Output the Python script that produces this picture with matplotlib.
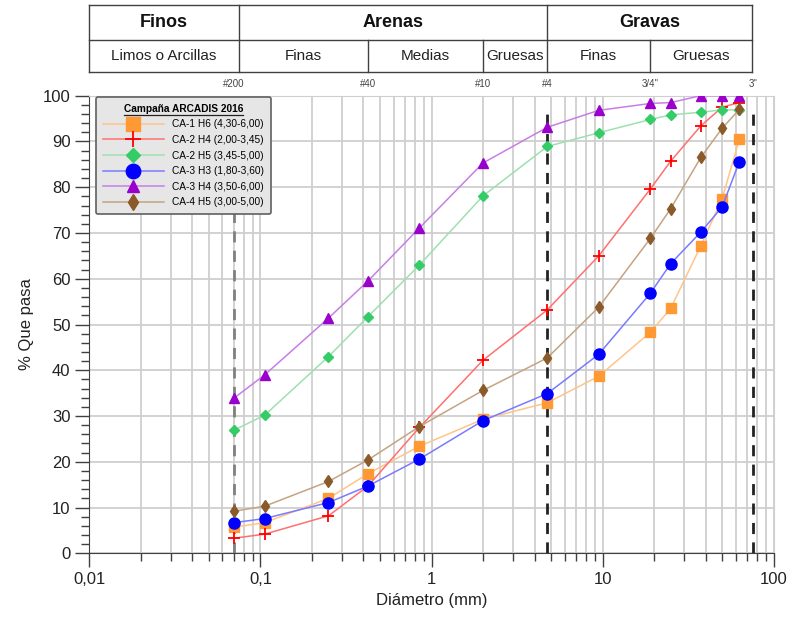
import numpy as np
import matplotlib
matplotlib.use("Agg")
import matplotlib.pyplot as plt
from matplotlib.lines import Line2D
from matplotlib.ticker import FuncFormatter, MultipleLocator
import matplotlib.transforms as mtransforms

plt.rcParams['font.family'] = ['Liberation Sans', 'DejaVu Sans']

# abertura de tamices (mm)
diametros = [0.07, 0.106, 0.25, 0.425, 0.85, 2.0, 4.75, 9.5, 19, 25, 37.5, 50, 63]

ca1_h6 = [5.7, 6.7, 12.0, 17.4, 23.4, 29.3, 32.9, 38.7, 48.3, 53.5, 67.2, 77.5, 90.5]
ca2_h4 = [3.3, 4.2, 8.2, 14.7, 27.5, 42.2, 53.2, 65.0, 79.6, 85.7, 93.4, 97.5, 98.5]
ca2_h5 = [26.9, 30.2, 43.0, 51.7, 63.0, 78.1, 88.9, 91.9, 94.8, 95.8, 96.4, 96.9, 96.9]
ca3_h3 = [6.7, 7.6, 11.1, 14.7, 20.6, 29.0, 34.9, 43.5, 56.8, 63.3, 70.2, 75.7, 85.6]
ca3_h4 = [33.9, 39.0, 51.4, 59.5, 71.1, 85.3, 93.1, 96.8, 98.3, 98.5, 100, 100, 100]
ca4_h5 = [9.2, 10.3, 15.7, 20.4, 27.7, 35.6, 42.7, 53.8, 68.8, 75.3, 86.5, 92.9, 97.0]

etiquetas = ["CA-1 H6 (4,30-6,00)", "CA-2 H4 (2,00-3,45)", "CA-2 H5 (3,45-5,00)",
             "CA-3 H3 (1,80-3,60)", "CA-3 H4 (3,50-6,00)", "CA-4 H5 (3,00-5,00)"]

# tamices marcados arriba
tamices_x = [0.07, 0.425, 2.0, 4.75, 19, 76]
tamices_txt = ["#200", "#40", "#10", "#4", "3/4\"", "3\""]

series = [ca1_h6, ca2_h4, ca2_h5, ca3_h3, ca3_h4, ca4_h5]
# (color linea, color marcador, marcador, tamano)
estilos = [
    ("#ffc48a", "#ff9933", "s", 7.5),
    ("#ff7070", "#ff0000", "+", 9),
    ("#9ee0b0", "#33cc66", "D", 5.5),
    ("#7a7aff", "#0000ff", "o", 8),
    ("#c77ee6", "#9900cc", "^", 7),
    ("#c4a482", "#8b5a2b", "d", 6.5),
]

fig = plt.figure(figsize=(7.89, 6.17), dpi=100)
ax = fig.add_axes([0.1132, 0.1032, 0.8674, 0.7417])
ax.set_xscale("log")
ax.set_xlim(0.01, 100)
ax.set_ylim(0, 100)

# rejilla
ax.grid(True, which="both", axis="x", color="#cfcfcf", lw=1.3, zorder=0)
ax.grid(True, which="major", axis="y", color="#cfcfcf", lw=1.3, zorder=0)
ax.set_axisbelow(True)

# lineas de tamices
ax.plot([0.07, 0.07], [0, 100], color="#808080", lw=2, ls=(0, (4, 3)), zorder=1)
ax.plot([4.75, 4.75], [0, 97], color="#222222", lw=2, ls=(0, (4, 3)), zorder=1)
ax.plot([76, 76], [0, 97], color="#222222", lw=2, ls=(0, (4, 3)), zorder=1)

handles = []
for datos, (cl, cm, mk, ms), lab in zip(series, estilos, etiquetas):
    mew = 1.3 if mk == "+" else 1
    h, = ax.plot(diametros, datos, color=cl, lw=1.1, marker=mk, ms=ms,
                 mfc=cm, mec=cm, mew=mew, label=lab, zorder=3)
    handles.append(h)

ax.xaxis.set_major_formatter(FuncFormatter(lambda v, p: ("%g" % v).replace(".", ",")))
ax.yaxis.set_major_locator(MultipleLocator(10))
ax.yaxis.set_minor_locator(MultipleLocator(2))
ax.tick_params(axis="both", which="major", length=10, width=1, color="#404040",
               labelsize=12, labelcolor="#222222")
ax.tick_params(axis="both", which="minor", length=6, width=1, color="#404040")
ax.tick_params(axis="x", which="minor", labelbottom=False)
ax.set_xlabel("Diámetro (mm)", fontsize=12, color="#222222", labelpad=4)
ax.set_ylabel("% Que pasa", fontsize=12, color="#222222", labelpad=6)

for s in ["left", "bottom"]:
    ax.spines[s].set_color("#404040")
for s in ["top", "right"]:
    ax.spines[s].set_color("#cfcfcf")

leg = ax.legend(handles=handles, loc="upper left", bbox_to_anchor=(0.008, 1.0),
                borderaxespad=0.1, fontsize=7.3, title="Campaña ARCADIS 2016",
                title_fontproperties={"weight": "bold", "size": 7.3},
                handlelength=6, labelspacing=0.55, borderpad=0.7, markerscale=1.3,
                fancybox=True, framealpha=1, facecolor="#e6e6e6", edgecolor="#606060")
leg.get_frame().set_linewidth(1.2)
leg.set_zorder(5)

# tabla de clasificacion arriba
tr = mtransforms.blended_transform_factory(ax.transData, ax.transAxes)
y_top, y_mid, y_bot = 1.198, 1.122, 1.052
x0, x1 = 0.01, 75

def linea(xs, ys):
    fig.add_artist(Line2D(xs, ys, transform=tr, color="#404040", lw=1, clip_on=False))

linea([x0, x1], [y_top, y_top])
linea([x0, x1], [y_mid, y_mid])
linea([x0, x1], [y_bot, y_bot])
for xv in [x0, 0.075, 4.75, x1]:
    linea([xv, xv], [y_bot, y_top])
for xv in [0.425, 2.0, 19]:
    linea([xv, xv], [y_bot, y_mid])

def centro(a, b):
    return np.sqrt(a * b)

arriba = [("Finos", x0, 0.075), ("Arenas", 0.075, 4.75), ("Gravas", 4.75, x1)]
for txt, a, b in arriba:
    ax.text(centro(a, b), (y_top + y_mid) / 2, txt, transform=tr, ha="center",
            va="center", fontsize=13, fontweight="bold", color="#111111", clip_on=False)

abajo = [("Limos o Arcillas", x0, 0.075), ("Finas", 0.075, 0.425), ("Medias", 0.425, 2.0),
         ("Gruesas", 2.0, 4.75), ("Finas", 4.75, 19), ("Gruesas", 19, x1)]
for txt, a, b in abajo:
    ax.text(centro(a, b), (y_mid + y_bot) / 2, txt, transform=tr, ha="center",
            va="center", fontsize=11, color="#222222", clip_on=False)

for xv, txt in zip(tamices_x, tamices_txt):
    ax.text(xv, 1.026, txt, transform=tr, ha="center", va="center", fontsize=7,
            color="#444444", clip_on=False)

# subrayado del titulo de la leyenda
fig.canvas.draw()
bb = leg.get_title().get_window_extent()
fig.add_artist(Line2D([bb.x0, bb.x1], [bb.y0 - 1, bb.y0 - 1], transform=None,
                      color="#222222", lw=0.9, zorder=6))

fig.savefig("out.png", dpi=100)
